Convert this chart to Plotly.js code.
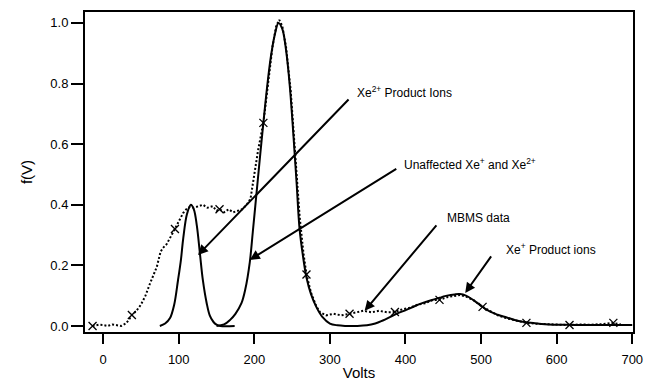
<!DOCTYPE html>
<html>
<head>
<meta charset="utf-8">
<script src="https://cdn.plot.ly/plotly-3.0.1.min.js"></script>
<style>html,body{margin:0;padding:0;background:#fff;}#chart{width:645px;height:381px;}</style>
</head>
<body>
<div id="chart"></div>
<script>
// MBMS data (dotted)
const dataV = [-14,-6,0,6,12,18,24,30,34,38,44,50,56,62,67,71,76,79,84,90,95,100,106,110,115,120,126,132,138,145,150,154,160,166,172,178,184,190,195,200,205,212,218,224,229,233,237,242,248,254,260,265,269,275,282,287,295,305,315,326,335,344,355,365,376,386,396,406,416,426,436,445,455,465,472,480,490,502,512,522,534,545,560,575,590,605,617,630,645,660,674,685];
const dataF = [0.0,0.004,0.003,0.0,0.005,0.002,0.0,0.008,0.02,0.036,0.05,0.07,0.1,0.14,0.17,0.195,0.245,0.257,0.27,0.295,0.32,0.345,0.373,0.385,0.393,0.39,0.395,0.40,0.39,0.395,0.38,0.385,0.375,0.385,0.375,0.38,0.385,0.40,0.42,0.50,0.58,0.67,0.80,0.92,0.99,1.01,0.99,0.92,0.78,0.58,0.36,0.24,0.17,0.11,0.065,0.045,0.035,0.04,0.035,0.04,0.045,0.05,0.045,0.05,0.045,0.046,0.055,0.06,0.07,0.075,0.085,0.086,0.095,0.10,0.102,0.097,0.085,0.063,0.05,0.035,0.025,0.018,0.01,0.007,0.005,0.004,0.003,0.005,0.004,0.006,0.01,0.005];
// X markers on MBMS data
const markV = [-14,38,95,154,212,269,326,386,445,502,560,617,675];
const markF = [0.0,0.036,0.32,0.385,0.67,0.17,0.04,0.046,0.086,0.063,0.01,0.003,0.01];
// Xe2+ product ions (solid)
const prodV = [75,82,88.5,94,99,103,106,111,116,120,124,128,132,137,141,146,150,155,174];
const prodF = [0.0,0.008,0.026,0.07,0.15,0.22,0.29,0.37,0.40,0.385,0.33,0.24,0.15,0.075,0.035,0.013,0.004,0.0,0.0];
// Unaffected Xe+ / Xe2+ and Xe+ product ions (solid)
const mainV = [150,160,168,175,183,188,194,198,203,208,212,217,222,227,232,237,242,247,252,256,260,265,269,275,282,290,300,310,320,335,349,360,370,380,390,401,412,423,434,445,455,465,472,480,490,502,512,522,534,547,560,575,590,610,630,650,670,700];
const mainF = [0.0,0.005,0.02,0.04,0.075,0.12,0.21,0.31,0.44,0.57,0.67,0.79,0.89,0.96,1.0,0.98,0.91,0.79,0.62,0.47,0.317,0.22,0.16,0.105,0.063,0.03,0.008,0.002,0.0,0.0,0.002,0.008,0.018,0.03,0.042,0.053,0.065,0.076,0.085,0.093,0.10,0.104,0.105,0.10,0.085,0.063,0.047,0.037,0.028,0.018,0.012,0.008,0.005,0.004,0.003,0.003,0.003,0.003];

const xTicks = [0,100,200,300,400,500,600,700];
const yTicks = [0.0,0.2,0.4,0.6,0.8,1.0];

const traces = [
  {x: dataV, y: dataF, mode:'lines', line:{color:'#000', width:2, dash:'2px,2px'}, hoverinfo:'skip'},
  {x: prodV, y: prodF, mode:'lines', line:{color:'#000', width:2, shape:'spline'}, hoverinfo:'skip'},
  {x: mainV, y: mainF, mode:'lines', line:{color:'#000', width:2, shape:'spline'}, hoverinfo:'skip'},
  {x: markV, y: markF, mode:'markers', marker:{symbol:'x-thin', size:8, line:{color:'#000', width:1.3}}, hoverinfo:'skip'}
];

const font = {family:'Liberation Sans, Arial, sans-serif', size:12, color:'#000'};
function arrow(x, y, ax, ay){
  return {x:x, y:y, xref:'x', yref:'y', text:'', showarrow:true, ax:ax, ay:ay,
          arrowhead:2, arrowsize:1, arrowwidth:2, arrowcolor:'#000'};
}
function label(x, y, t){
  return {x:x, y:y, xref:'x', yref:'y', text:t, showarrow:false, xanchor:'left', yanchor:'middle', font:font};
}
const layout = {
  width:645, height:381,
  margin:{l:85, r:12, t:12, b:49},
  paper_bgcolor:'#fff', plot_bgcolor:'#fff',
  showlegend:false,
  font:font,
  xaxis:{range:[-24,701], tickvals:xTicks, ticktext:xTicks.map(String), showgrid:false, zeroline:false,
         showline:true, linewidth:2, linecolor:'#000', mirror:true, ticks:'outside', ticklen:10, tickwidth:2, tickcolor:'#000',
         ticklabelstandoff:4,
         tickfont:{family:font.family, size:13, color:'#000'},
         title:{text:'Volts', font:{family:font.family, size:15, color:'#000'}, standoff:2}},
  yaxis:{range:[-0.02,1.036], tickvals:yTicks, ticktext:yTicks.map(v=>v.toFixed(1)), showgrid:false, zeroline:false,
         showline:true, linewidth:2, linecolor:'#000', mirror:true, ticks:'outside', ticklen:12, tickwidth:2, tickcolor:'#000',
         tickfont:{family:font.family, size:13, color:'#000'},
         title:{text:'f(V)', font:{family:font.family, size:15, color:'#000'}, standoff:14}},
  annotations:[
    arrow(125.5, 0.234, 152, -157),
    arrow(194, 0.218, 148, -92),
    arrow(346, 0.05, 73, -87),
    arrow(479, 0.109, 27, -38),
    label(333, 0.772, 'Xe<sup>2+</sup> Product Ions'),
    label(396, 0.535, 'Unaffected Xe<sup>+</sup> and Xe<sup>2+</sup>'),
    label(452, 0.356, 'MBMS data'),
    label(530, 0.254, 'Xe<sup>+</sup> Product ions')
  ]
};
Plotly.newPlot('chart', traces, layout, {staticPlot:true, displayModeBar:false});
</script>
</body>
</html>
